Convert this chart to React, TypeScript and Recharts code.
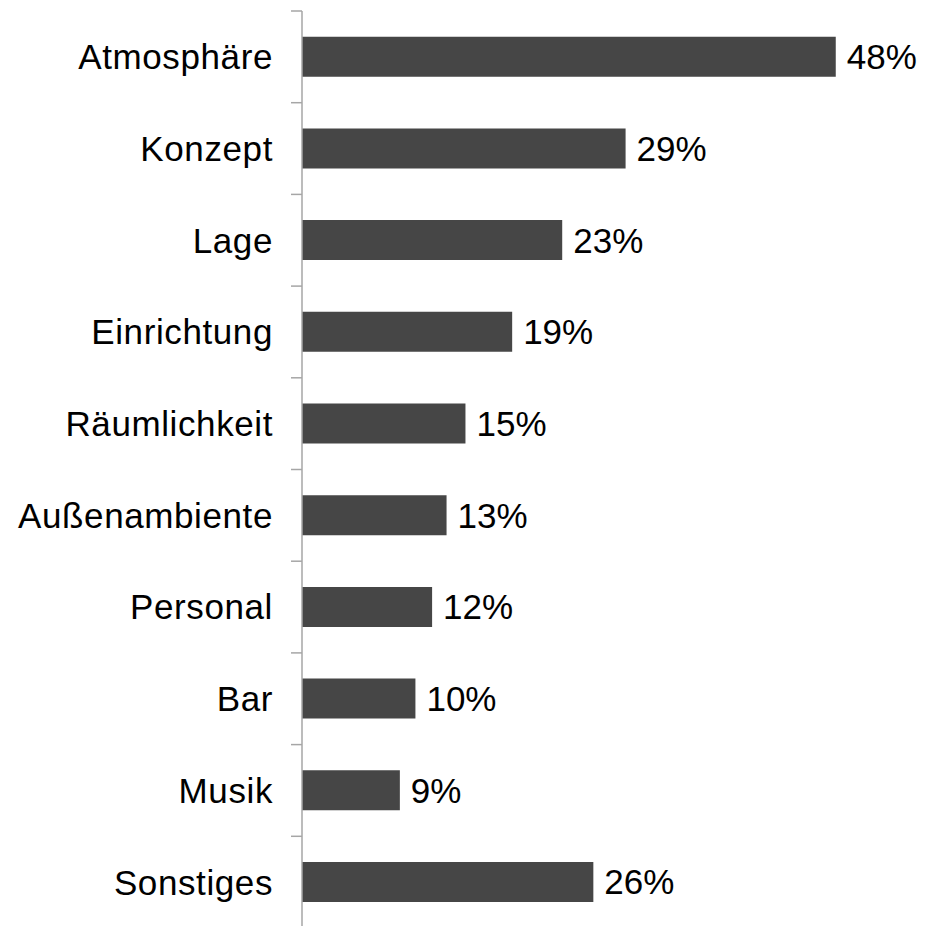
import React from 'react';
import { BarChart, Bar, XAxis, YAxis, LabelList } from 'recharts';

// categories top to bottom
const categories = [
  'Atmosphäre', 'Konzept', 'Lage', 'Einrichtung', 'Räumlichkeit',
  'Außenambiente', 'Personal', 'Bar', 'Musik', 'Sonstiges',
];
// shares in percent (labels show rounded values)
const shares = [48, 29.1, 23.4, 18.9, 14.7, 13.0, 11.7, 10.2, 8.8, 26.2];

const data = categories.map((name, i) => ({ name, value: shares[i] }));

const font = '"Liberation Sans", Arial, sans-serif';
const axisColor = '#a6a6a6';
const labelGap = 29;
const markLen = 11;

// category label plus a short separator mark at the top edge of its band
const CategoryTick = (props: any) => {
  const { x, y, payload } = props;
  const half = payload && payload.offset ? payload.offset : 0;
  const axisX = x + labelGap;
  return (
    <g>
      <line x1={axisX - markLen} x2={axisX} y1={y - half} y2={y - half} stroke={axisColor} strokeWidth={1.5} />
      <text x={x} y={y} dy="0.355em" textAnchor="end" fill="#000" fontSize={35} fontFamily={font} letterSpacing={0.6}>
        {payload.value}
      </text>
    </g>
  );
};

export default function App() {
  return (
    <div style={{ position: 'absolute', left: 0, top: 0, width: 926, height: 926, overflow: 'hidden', background: '#fff' }}>
      <BarChart
        width={926}
        height={928}
        data={data}
        layout="vertical"
        margin={{ top: 11, right: 68, left: 0, bottom: 0 }}
        barCategoryGap="28%"
      >
        <XAxis type="number" domain={[0, 50]} hide />
        <YAxis
          type="category"
          dataKey="name"
          width={302}
          axisLine={{ stroke: axisColor, strokeWidth: 1.5 }}
          tickLine={false}
          tickSize={0}
          tickMargin={labelGap}
          interval={0}
          tick={CategoryTick}
        />
        <Bar dataKey="value" fill="#464646" isAnimationActive={false}>
          <LabelList
            dataKey="value"
            position="right"
            offset={11}
            fill="#000"
            fontSize={35}
            fontFamily={font}
            formatter={(v: number) => `${Math.round(v)}%`}
          />
        </Bar>
      </BarChart>
    </div>
  );
}
